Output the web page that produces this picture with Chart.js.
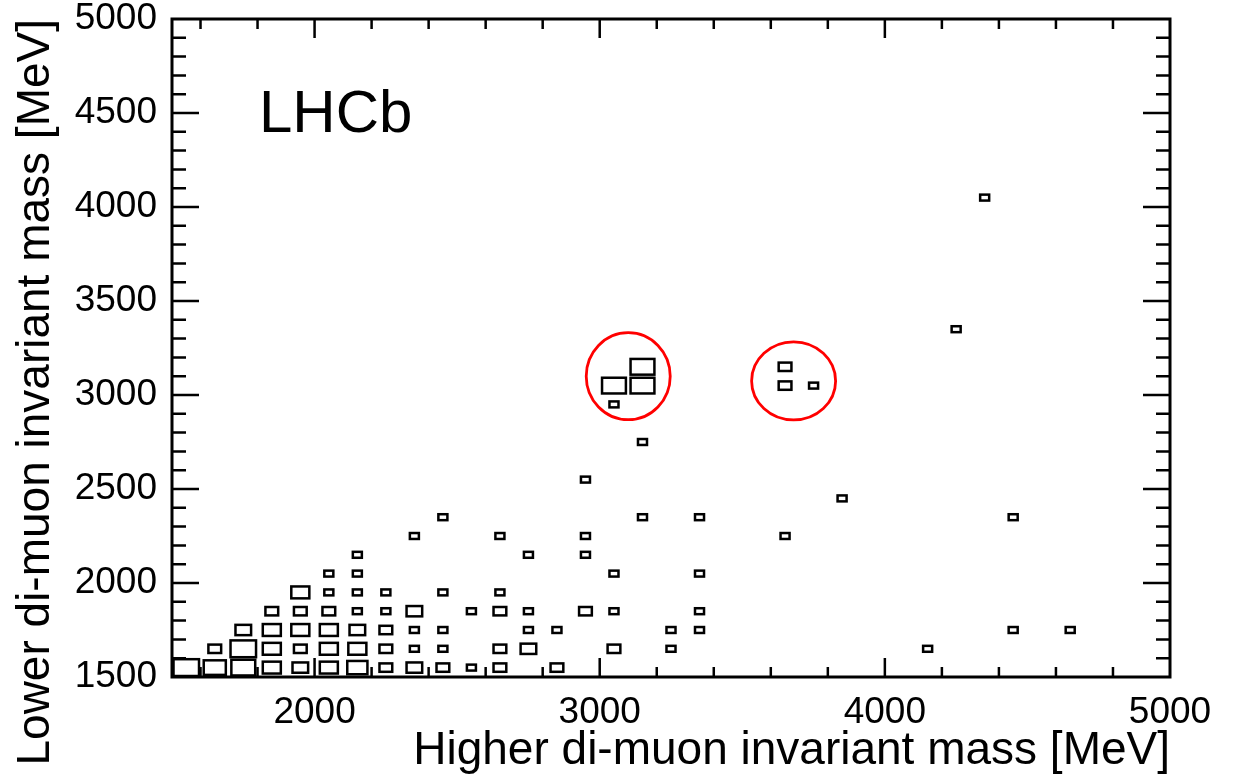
<!DOCTYPE html>
<html>
<head>
<meta charset="utf-8">
<script src="https://cdn.jsdelivr.net/npm/chart.js@4.4.1/dist/chart.umd.min.js"></script>
<style>
  html, body { margin: 0; padding: 0; background: #fff; }
  #wrap { width: 1240px; height: 779px; }
</style>
</head>
<body>
<div id="wrap"><canvas id="myGraph" width="1240" height="779"></canvas></div>
<script>
// 2D histogram, 100 MeV bins; values are bin centres (MeV) and entries per bin
const higherMass = [
  1550, 1650, 1750, 1850, 1950, 2050, 2150, 2250, 2350, 2450, 2550, 2650, 2850,        // y 1550
  1650, 1750, 1850, 1950, 2050, 2150, 2250, 2350, 2450, 2650, 2750, 3050, 3250, 4150,  // y 1650
  1750, 1850, 1950, 2050, 2150, 2250, 2350, 2450, 2750, 2850, 3250, 3350, 4450, 4650,  // y 1750
  1850, 1950, 2050, 2150, 2250, 2350, 2550, 2650, 2750, 2950, 3050, 3350,              // y 1850
  1950, 2050, 2150, 2250, 2450, 2650,                                                  // y 1950
  2050, 2150, 3050, 3350,                                                              // y 2050
  2150, 2750, 2950,                                                                    // y 2150
  2350, 2650, 2950, 3650,                                                              // y 2250
  2450, 3150, 3350, 4450,                                                              // y 2350
  3850,                                                                                // y 2450
  2950,                                                                                // y 2550
  3150,                                                                                // y 2750
  3050,                                                                                // y 2950
  3050, 3150, 3650, 3750,                                                              // y 3050
  3150, 3650,                                                                          // y 3150
  4250,                                                                                // y 3350
  4350                                                                                 // y 4050
];
const lowerMass = [
  1550, 1550, 1550, 1550, 1550, 1550, 1550, 1550, 1550, 1550, 1550, 1550, 1550,
  1650, 1650, 1650, 1650, 1650, 1650, 1650, 1650, 1650, 1650, 1650, 1650, 1650, 1650,
  1750, 1750, 1750, 1750, 1750, 1750, 1750, 1750, 1750, 1750, 1750, 1750, 1750, 1750,
  1850, 1850, 1850, 1850, 1850, 1850, 1850, 1850, 1850, 1850, 1850, 1850,
  1950, 1950, 1950, 1950, 1950, 1950,
  2050, 2050, 2050, 2050,
  2150, 2150, 2150,
  2250, 2250, 2250, 2250,
  2350, 2350, 2350, 2350,
  2450,
  2550,
  2750,
  2950,
  3050, 3050, 3050, 3050,
  3150, 3150,
  3350,
  4050
];
const entries = [
  8, 6, 7, 4, 3, 4, 5, 2, 3, 2, 1, 2, 2,
  2, 8, 4, 2, 4, 4, 2, 1, 1, 2, 3, 2, 1, 1,
  3, 4, 4, 4, 3, 2, 1, 1, 1, 1, 1, 1, 1, 1,
  2, 2, 2, 1, 1, 3, 1, 2, 1, 2, 1, 1,
  4, 1, 1, 1, 1, 1,
  1, 1, 1, 1,
  1, 1, 1,
  1, 1, 1, 1,
  1, 1, 1, 1,
  1,
  1,
  1,
  1,
  7, 7, 2, 1,
  7, 2,
  1,
  1
];

const xTickLabels = [2000, 3000, 4000, 5000];
const yTickLabels = [1500, 2000, 2500, 3000, 3500, 4000, 4500, 5000];

// red rings marking the candidate clusters (centres in MeV)
const ringX = [3100, 3680];
const ringY = [3100, 3075];

const font = '"Liberation Sans", Arial, Helvetica, sans-serif';
const fullBin = 10; // entries that would fill a whole bin

const boxes = {
  id: 'boxes',
  afterDatasetsDraw(chart) {
    const {ctx, chartArea: a, scales: {x, y}} = chart;
    const meta = chart.getDatasetMeta(0);
    const bw = Math.abs(x.getPixelForValue(1600) - x.getPixelForValue(1500));
    const bh = Math.abs(y.getPixelForValue(1500) - y.getPixelForValue(1600));
    ctx.save();
    ctx.beginPath();
    ctx.rect(a.left, a.top, a.width, a.height);
    ctx.clip();
    ctx.strokeStyle = '#000';
    ctx.lineWidth = 2.5;
    meta.data.forEach((pt, i) => {
      const f = Math.sqrt(entries[i] / fullBin);
      const w = bw * f, h = bh * f;
      ctx.strokeRect(pt.x - w / 2, pt.y - h / 2, w, h);
    });
    ctx.restore();
  }
};

const frame = {
  id: 'frame',
  afterDraw(chart) {
    const {ctx, chartArea: a, scales: {x, y}} = chart;
    ctx.save();
    ctx.strokeStyle = '#000';
    ctx.lineWidth = 2.5;
    ctx.beginPath();
    x.ticks.forEach(t => {
      if (t.value <= x.min || t.value >= x.max) return;
      const px = x.getPixelForValue(t.value);
      const len = xTickLabels.includes(t.value) ? 19 : 10;
      ctx.moveTo(px, a.bottom); ctx.lineTo(px, a.bottom - len);
      ctx.moveTo(px, a.top); ctx.lineTo(px, a.top + len);
    });
    y.ticks.forEach(t => {
      if (t.value <= y.min || t.value >= y.max) return;
      const py = y.getPixelForValue(t.value);
      const len = yTickLabels.includes(t.value) ? 27 : 14;
      ctx.moveTo(a.left, py); ctx.lineTo(a.left + len, py);
      ctx.moveTo(a.right, py); ctx.lineTo(a.right - len, py);
    });
    ctx.stroke();
    ctx.lineWidth = 3;
    ctx.strokeRect(a.left, a.top, a.width, a.height);

    // rings
    ctx.strokeStyle = '#ff0000';
    ctx.lineWidth = 2.8;
    const rx = [42, 42], ry = [43.5, 39];
    ringX.forEach((v, i) => {
      ctx.beginPath();
      ctx.ellipse(x.getPixelForValue(v), y.getPixelForValue(ringY[i]), rx[i], ry[i], 0, 0, Math.PI * 2);
      ctx.stroke();
    });

    ctx.fillStyle = '#000';
    ctx.font = '60px ' + font;
    ctx.textBaseline = 'alphabetic';
    ctx.fillText('LHCb', 259, 132);
    ctx.restore();
  }
};

const ctx = document.getElementById('myGraph');

const data = {
  datasets: [{
    label: 'entries',
    data: higherMass.map((v, i) => ({x: v, y: lowerMass[i]})),
    pointRadius: 0,
    pointHoverRadius: 0,
    showLine: false
  }]
};

const config = {
  type: 'scatter',
  data: data,
  options: {
    responsive: false,
    animation: false,
    devicePixelRatio: 1,
    layout: { padding: { left: 0, top: 19, right: 70, bottom: 0 } },
    plugins: { legend: { display: false }, tooltip: { enabled: false } },
    scales: {
      x: {
        type: 'linear',
        min: 1500,
        max: 5000,
        grid: { display: false, drawTicks: false },
        border: { display: false },
        ticks: {
          stepSize: 200,
          includeBounds: false,
          autoSkip: false,
          maxRotation: 0,
          minRotation: 0,
          padding: 17,
          color: '#000',
          font: { family: font, size: 37, lineHeight: 1 },
          callback: v => xTickLabels.includes(v) ? String(v) : ''
        },
        title: {
          display: true,
          text: 'Higher di-muon invariant mass [MeV]',
          align: 'end',
          color: '#000',
          padding: { top: 0, bottom: 0 },
          font: { family: font, size: 46, lineHeight: 1.2 }
        },
        afterFit: s => { s.height = 102; s.paddingLeft = 0; s.paddingRight = 0; }
      },
      y: {
        type: 'linear',
        min: 1500,
        max: 5000,
        grid: { display: false, drawTicks: false },
        border: { display: false },
        ticks: {
          stepSize: 100,
          autoSkip: false,
          maxTicksLimit: 100,
          padding: 15,
          color: '#000',
          font: { family: font, size: 37, lineHeight: 1 },
          callback: v => yTickLabels.includes(v) ? String(v) : ''
        },
        title: {
          display: true,
          text: 'Lower di-muon invariant mass [MeV]',
          align: 'end',
          color: '#000',
          padding: { top: 9, bottom: 0 },
          font: { family: font, size: 46, lineHeight: 1.2 }
        },
        afterFit: s => { s.width = 172; s.paddingTop = 0; s.paddingBottom = 0; }
      }
    }
  },
  plugins: [boxes, frame]
};

const myChart = new Chart(ctx, config);
</script>
</body>
</html>
